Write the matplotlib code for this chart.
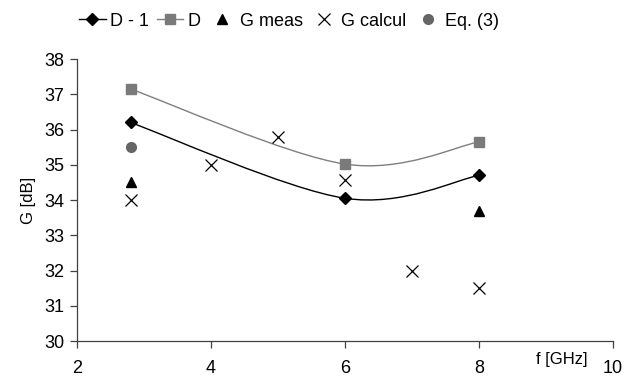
import matplotlib.pyplot as plt
import numpy as np
from matplotlib.path import Path
from matplotlib.patches import PathPatch
from matplotlib.lines import Line2D

plt.rcParams['font.family'] = ['Liberation Sans', 'DejaVu Sans']

# data
f_d = [2.8, 6, 8]
d_minus_1 = [36.2, 34.05, 34.7]
d_vals = [37.15, 35.02, 35.65]
f_meas = [2.8, 8]
g_meas = [34.5, 33.7]
f_calc = [2.8, 4, 5, 6, 7, 8]
g_calc = [34.0, 35.0, 35.8, 34.57, 32.0, 31.5]
f_eq = [2.8]
g_eq = [35.5]


def smooth_path(x, y):
    # Excel-like smoothed line (Catmull-Rom style cubic Bezier)
    pts = np.column_stack([x, y]).astype(float)
    n = len(pts)
    verts = [pts[0]]
    codes = [Path.MOVETO]
    for i in range(n - 1):
        p0 = pts[i - 1] if i > 0 else pts[i]
        p1 = pts[i]
        p2 = pts[i + 1]
        p3 = pts[i + 2] if i + 2 < n else pts[i + 1]
        c1 = p1 + (p2 - p0) / 6
        c2 = p2 - (p3 - p1) / 6
        verts += [c1, c2, p2]
        codes += [Path.CURVE4] * 3
    return Path(verts, codes)


fig = plt.figure(figsize=(6.25, 3.76), dpi=100)
ax = fig.add_axes([0.123, 0.093, 0.858, 0.75])

ax.add_patch(PathPatch(smooth_path(f_d, d_vals), fill=False, edgecolor='#7f7f7f', lw=1.0))
ax.add_patch(PathPatch(smooth_path(f_d, d_minus_1), fill=False, edgecolor='black', lw=1.0))

ax.plot(f_d, d_vals, 's', color='#7a7a7a', ms=7.5, mec='#7a7a7a')
ax.plot(f_d, d_minus_1, 'D', color='black', ms=6.5)
ax.plot(f_meas, g_meas, '^', color='black', ms=7.5)
ax.plot(f_calc, g_calc, 'x', color='black', ms=9, mew=0.9)
ax.plot(f_eq, g_eq, 'o', color='#666666', ms=7)

ax.set_xlim(2, 10)
ax.set_ylim(30, 38)
ax.set_xticks([2, 4, 6, 8, 10])
ax.set_xticklabels(['2', '4', '6', '8', '10'])
ax.set_yticks(range(30, 39))
for s in ['top', 'right']:
    ax.spines[s].set_visible(False)
for s in ['left', 'bottom']:
    ax.spines[s].set_color('#404040')
    ax.spines[s].set_linewidth(0.9)
ax.tick_params(axis='both', direction='out', length=5, width=0.9, color='#404040', labelsize=13)
ax.tick_params(axis='x', pad=9)
ax.tick_params(axis='y', pad=4)
ax.set_ylabel('G [dB]', fontsize=12, labelpad=6)
ax.text(0.905, -0.065, 'f [GHz]', transform=ax.transAxes, fontsize=12, ha='center', va='center')

handles = [
    Line2D([], [], color='black', marker='D', ms=6.5, lw=1.0),
    Line2D([], [], color='#7f7f7f', marker='s', ms=7.5, lw=1.0, mfc='#7a7a7a', mec='#7a7a7a'),
    Line2D([], [], color='black', marker='^', ms=7.5, ls='none'),
    Line2D([], [], color='black', marker='x', ms=9, mew=0.9, ls='none'),
    Line2D([], [], color='#666666', marker='o', ms=7, ls='none'),
]
labels = ['D - 1', 'D', 'G meas', 'G calcul', 'Eq. (3)']
fig.legend(handles, labels, loc='upper center', bbox_to_anchor=(0.463, 1.0), ncol=5,
           frameon=False, fontsize=13, handlelength=1.45, handletextpad=0.25,
           columnspacing=0.45, borderaxespad=0.3)

fig.savefig('out.png', dpi=100)
